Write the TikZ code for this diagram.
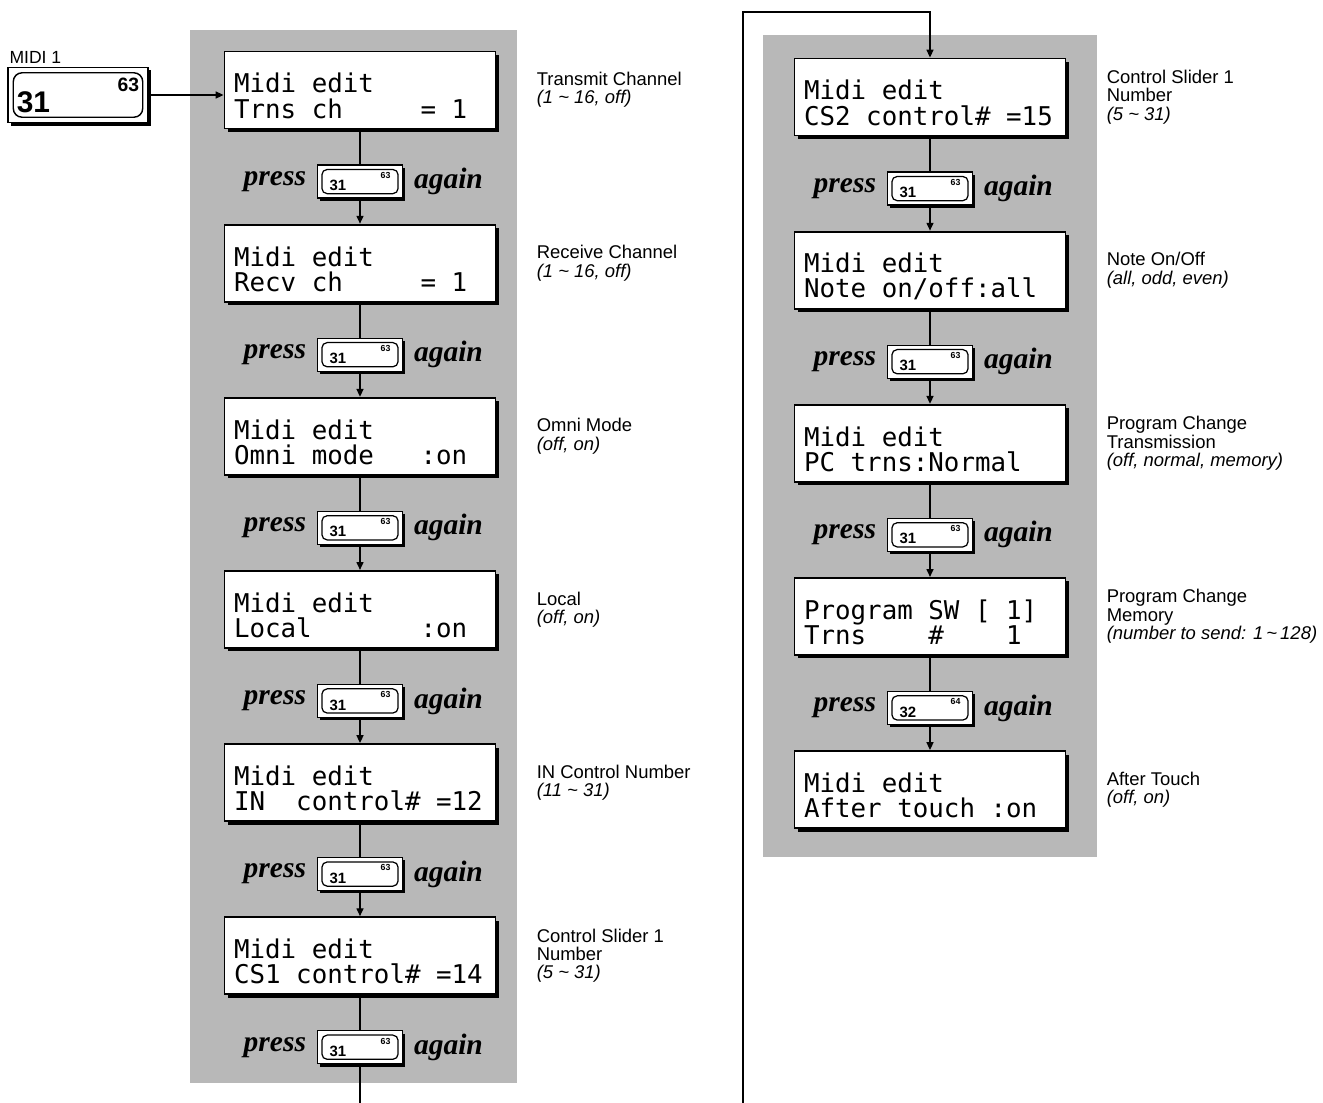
\documentclass[tikz,border=0pt]{standalone}
\usepackage{fontspec}
\setsansfont{Liberation Sans}
\setmonofont{DejaVu Sans Mono}
\newfontfamily\pressfont{Liberation Serif}
\usetikzlibrary{arrows.meta,positioning,shadows}

% key cap text: number bottom left, small number top right
\newcommand{\keycap}[2]{\makebox[1.22cm]{\raisebox{-3pt}{\fontsize{8.5}{8.5}\selectfont\bfseries\sffamily #1}\hfill\raisebox{4pt}{\fontsize{5}{5}\selectfont\bfseries\sffamily #2}}}

\begin{document}
\begin{tikzpicture}[x=0.02cm, y=-0.02cm,
  panel/.style={fill=black!28, draw=none},
  lcd/.style={draw, line width=1.1pt, fill=white, minimum width=5.42cm,
              minimum height=1.54cm, text width=5.04cm, align=flush left,
              inner xsep=0.19cm, font=\ttfamily\fontsize{14.7}{14.4}\selectfont,
              execute at begin node={\rule{0pt}{18pt}},
              drop shadow={shadow xshift=2pt, shadow yshift=-2pt, fill=black, opacity=1}},
  key/.style={draw, line width=0.7pt, fill=white, minimum width=1.7cm,
              minimum height=0.66cm, inner sep=0pt,
              drop shadow={shadow xshift=1.6pt, shadow yshift=-1.6pt, fill=black, opacity=1},
              path picture={\draw[line width=0.7pt, rounded corners=3pt]
                ([shift={(2.5pt,-2.5pt)}]path picture bounding box.north west) rectangle
                ([shift={(-2.5pt,2.5pt)}]path picture bounding box.south east);}},
  bigkey/.style={key, minimum width=2.8cm, minimum height=1.1cm,
              drop shadow={shadow xshift=1.8pt, shadow yshift=-1.8pt, fill=black, opacity=1},
              path picture={\draw[line width=0.8pt, rounded corners=5pt]
                ([shift={(3pt,-3pt)}]path picture bounding box.north west) rectangle
                ([shift={(-3pt,3pt)}]path picture bounding box.south east);}},
  presstxt/.style={inner sep=0pt, font=\pressfont\bfseries\itshape\fontsize{16.8}{16.8}\selectfont},
  lbl/.style={inner sep=0pt, align=left, font=\sffamily\fontsize{10.5}{10.4}\selectfont},
  arr/.style={-{Triangle[length=4.5pt,width=4pt]}, line width=0.8pt},
  link/.style={line width=0.8pt}
]
  \useasboundingbox (0,0) rectangle (1323,1103);
  \clip (0,0) rectangle (1323,1103);

  % shaded backgrounds
  \fill[panel] (190,30) rectangle (517,1083);
  \fill[panel] (763,35) rectangle (1097,857);

  % MIDI 1 key
  \node[bigkey] (midi) at (78,95) {\makebox[2.45cm]{\raisebox{-7pt}{\fontsize{17}{17}\selectfont\bfseries\sffamily 31}\hfill\raisebox{5pt}{\fontsize{11}{11}\selectfont\bfseries\sffamily 63}}};
  \node[lbl, anchor=south west, font=\sffamily\fontsize{10}{10}\selectfont] (midilbl) at ([xshift=1pt,yshift=2pt]midi.north west) {MIDI 1};

  % left column
  \node[lcd] (l1) at (360,90) {Midi edit\\Trns~ch~~~~~=~1};
  \node[key, below=0.7cm of l1] (k1) {\keycap{31}{63}};
  \node[lcd, below=0.5cm of k1] (l2) {Midi edit\\Recv~ch~~~~~=~1};
  \node[key, below=0.7cm of l2] (k2) {\keycap{31}{63}};
  \node[lcd, below=0.5cm of k2] (l3) {Midi edit\\Omni~mode~~~:on};
  \node[key, below=0.7cm of l3] (k3) {\keycap{31}{63}};
  \node[lcd, below=0.5cm of k3] (l4) {Midi edit\\Local~~~~~~~:on};
  \node[key, below=0.7cm of l4] (k4) {\keycap{31}{63}};
  \node[lcd, below=0.5cm of k4] (l5) {Midi edit\\IN~~control\#~=12};
  \node[key, below=0.7cm of l5] (k5) {\keycap{31}{63}};
  \node[lcd, below=0.5cm of k5] (l6) {Midi edit\\CS1~control\#~=14};
  \node[key, below=0.7cm of l6] (k6) {\keycap{31}{63}};

  % right column
  \node[lcd] (r1) at (930,97) {Midi edit\\CS2~control\#~=15};
  \node[key, below=0.7cm of r1] (q1) {\keycap{31}{63}};
  \node[lcd, below=0.5cm of q1] (r2) {Midi edit\\Note~on/off:all};
  \node[key, below=0.7cm of r2] (q2) {\keycap{31}{63}};
  \node[lcd, below=0.5cm of q2] (r3) {Midi edit\\PC~trns:Normal};
  \node[key, below=0.7cm of r3] (q3) {\keycap{31}{63}};
  \node[lcd, below=0.5cm of q3] (r4) {Program~SW~[~1]\\Trns~~~~\#~~~~1};
  \node[key, below=0.7cm of r4] (q4) {\keycap{32}{64}};
  \node[lcd, below=0.5cm of q4] (r5) {Midi edit\\After~touch~:on};

  % press ... again
  \foreach \k in {k1,k2,k3,k4,k5,k6,q1,q2,q3,q4}{
    \node[presstxt, left=6pt of \k] (\k p) {press};
    \node[presstxt, right=6pt of \k] (\k a) {again};
  }

  % descriptions
  \node[lbl, right=0.8cm of l1] (t1) {Transmit Channel\\\textit{(1 \char`~\ 16, off)}};
  \node[lbl, right=0.8cm of l2] (t2) {Receive Channel\\\textit{(1 \char`~\ 16, off)}};
  \node[lbl, right=0.8cm of l3] (t3) {Omni Mode\\\textit{(off, on)}};
  \node[lbl, right=0.8cm of l4] (t4) {Local\\\textit{(off, on)}};
  \node[lbl, right=0.8cm of l5] (t5) {IN Control Number\\\textit{(11 \char`~\ 31)}};
  \node[lbl, right=0.8cm of l6] (t6) {Control Slider 1\\Number\\\textit{(5 \char`~\ 31)}};
  \node[lbl, right=0.8cm of r1] (s1) {Control Slider 1\\Number\\\textit{(5 \char`~\ 31)}};
  \node[lbl, right=0.8cm of r2] (s2) {Note On/Off\\\textit{(all, odd, even)}};
  \node[lbl, right=0.8cm of r3] (s3) {Program Change\\Transmission\\\textit{(off, normal, memory)}};
  \node[lbl, right=0.8cm of r4] (s4) {Program Change\\Memory\\\textit{(number to send: 1\,\char`~\,128)}};
  \node[lbl, right=0.8cm of r5] (s5) {After Touch\\\textit{(off, on)}};

  % connectors
  \draw[arr] (midi.east) -- (midi.east -| l1.west);
  \foreach \i/\j in {1/2,2/3,3/4,4/5,5/6}{
    \draw[link] (l\i) -- (k\i);
    \draw[arr] (k\i) -- (l\j);
  }
  \foreach \i/\j in {1/2,2/3,3/4,4/5}{
    \draw[link] (r\i) -- (q\i);
    \draw[arr] (q\i) -- (r\j);
  }
  \draw[link] (l6) -- (k6);
  \coordinate (lowrun) at (743,1140);
  \coordinate (toprun) at (743,12);
  \draw[arr] (k6.south) |- (lowrun) -- (toprun) -| (r1.north);
\end{tikzpicture}
\end{document}
